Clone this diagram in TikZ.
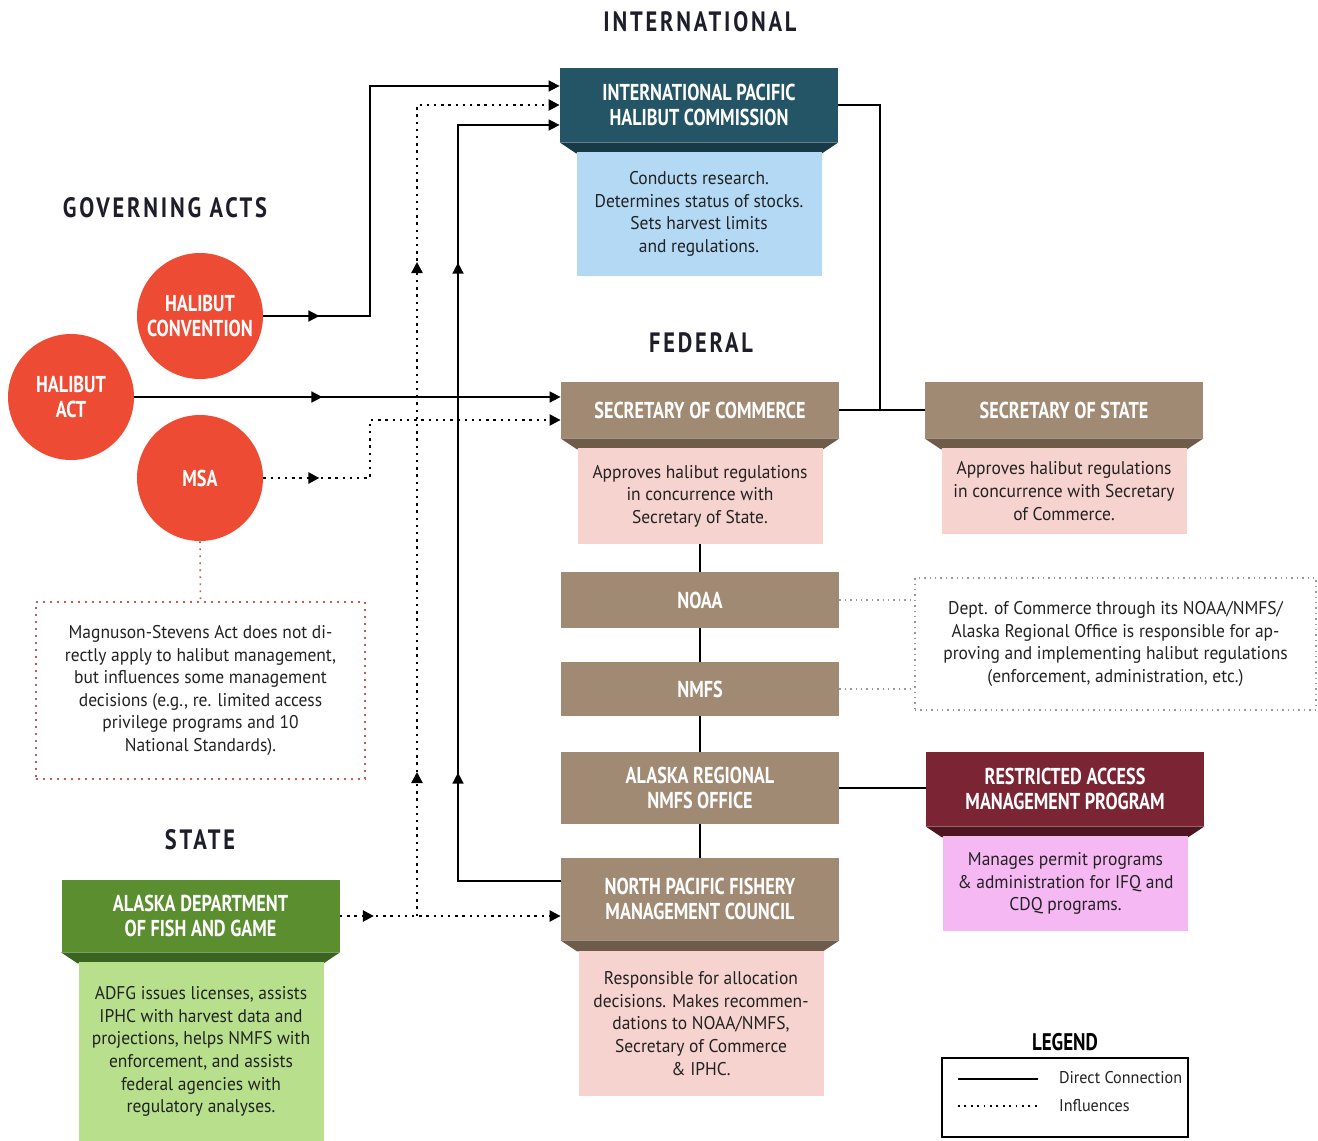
\documentclass[tikz,border=0pt]{standalone}
\usepackage{fontspec}
\setmainfont{PT Sans}
\newfontfamily\hdfont[FakeStretch=0.79]{PT Sans}
\newfontfamily\ttlfont[FakeStretch=0.8,LetterSpace=10]{PT Sans}
\newfontfamily\txtfont[FakeStretch=0.95]{PT Sans}
\usetikzlibrary{arrows.meta,decorations.markings}

\definecolor{actred}{HTML}{EE4B34}
\definecolor{tealtop}{HTML}{245566}
\definecolor{tealdark}{HTML}{173A46}
\definecolor{browntop}{HTML}{A18A73}
\definecolor{browndark}{HTML}{6F5B49}
\definecolor{maroontop}{HTML}{7B2434}
\definecolor{maroondark}{HTML}{4E1520}
\definecolor{greentop}{HTML}{5A8E2F}
\definecolor{greendark}{HTML}{3B6420}
\definecolor{bluedesc}{HTML}{B3D9F5}
\definecolor{pinkdesc}{HTML}{F6D3CE}
\definecolor{magentadesc}{HTML}{F6B8F3}
\definecolor{greendesc}{HTML}{B8E08C}
\definecolor{titleblue}{HTML}{1E1E2A}
\definecolor{txtgray}{HTML}{222222}
\definecolor{notered}{HTML}{C65A55}

\tikzset{tipat/.style={postaction={decorate,decoration={markings,
    mark=at position #1 with {\arrow{Triangle[length=5.5pt,width=5.5pt]}}}}}}
\newcommand{\chamfer}[2]{\fill [#2] (#1.south west) -- (#1.south east)
    -- ([xshift=-8.25pt,yshift=-5.5pt]#1.south east)
    -- ([xshift=8.25pt,yshift=-5.5pt]#1.south west) -- cycle;}

\begin{document}
\begin{tikzpicture}[x=0.5pt,y=-0.5pt]
        \tikzstyle{hdr}=[rectangle,text=white,font=\hdfont\bfseries\fontsize{11.5}{12.2}\selectfont,align=center,inner sep=0pt,minimum width=139pt]
        \tikzstyle{desc}=[rectangle,text=txtgray,font=\txtfont\fontsize{9.2}{11.3}\selectfont,align=center,inner sep=0pt,minimum width=122.5pt]
        \tikzstyle{act}=[circle,fill=actred,text=white,font=\hdfont\bfseries\fontsize{11.5}{12.2}\selectfont,align=center,inner sep=0pt,minimum size=63pt]
        \tikzstyle{sectitle}=[font=\ttlfont\bfseries\fontsize{14}{14}\selectfont,text=titleblue]
        \tikzstyle{direct}=[line width=0.8pt]
        \tikzstyle{influence}=[line width=1.2pt,dash pattern=on 1.2pt off 2.4pt]
        \tikzstyle{faint}=[line width=0.7pt,draw=gray!80,dash pattern=on 0.7pt off 2pt]
        \tikzstyle{notedots}=[line width=0.8pt,draw=notered,dash pattern=on 0.8pt off 2.7pt]
        \tikzstyle{endtip}=[-{Triangle[length=5.5pt,width=5.5pt]}]
        \useasboundingbox (0,0) rectangle (1318,1141);
        \node [sectitle] (intl) at (700,22) {INTERNATIONAL};
        \node [sectitle] (gov) at (165,208) {GOVERNING ACTS};
        \node [sectitle] (fed) at (701,343) {FEDERAL};
        \node [sectitle] (state) at (200,840) {STATE};
        \node [hdr,fill=tealtop,minimum height=37pt] (iphc) at (699,105) {INTERNATIONAL PACIFIC\\HALIBUT COMMISSION};
        \chamfer{iphc}{tealdark}
        \node [desc,fill=bluedesc,minimum height=62pt] (iphcd) at (699,214) {Conducts research.\\Determines status of stocks.\\Sets harvest limits\\and regulations.};
        \node [hdr,fill=browntop,minimum height=28pt] (soc) at (700,410) {SECRETARY OF COMMERCE};
        \chamfer{soc}{browndark}
        \node [desc,fill=pinkdesc,minimum height=48pt] (socd) at (700,496) {Approves halibut regulations\\in concurrence with\\Secretary of State.};
        \node [hdr,fill=browntop,minimum height=28pt] (sos) at (1064,410) {SECRETARY OF STATE};
        \chamfer{sos}{browndark}
        \node [desc,fill=pinkdesc,minimum height=43pt] (sosd) at (1064,491) {Approves halibut regulations\\in concurrence with Secretary\\of Commerce.};
        \node [hdr,fill=browntop,minimum height=28pt] (noaa) at (700,600) {NOAA};
        \node [hdr,fill=browntop,minimum height=27pt] (nmfs) at (700,689) {NMFS};
        \node [hdr,fill=browntop,minimum height=36pt] (arno) at (700,788) {ALASKA REGIONAL\\NMFS OFFICE};
        \node [hdr,fill=browntop,minimum height=41pt] (npfmc) at (700,899) {NORTH PACIFIC FISHERY\\MANAGEMENT COUNCIL};
        \chamfer{npfmc}{browndark}
        \node [desc,fill=pinkdesc,minimum height=72.5pt] (npfmcd) at (701,1023.5) {Responsible for allocation\\decisions. Makes recommen-\\dations to NOAA/NMFS,\\Secretary of Commerce\\\& IPHC.};
        \node [hdr,fill=maroontop,minimum height=37pt] (ramp) at (1065,789) {RESTRICTED ACCESS\\MANAGEMENT PROGRAM};
        \chamfer{ramp}{maroondark}
        \node [desc,fill=magentadesc,minimum height=47.5pt] (rampd) at (1065.5,883.5) {Manages permit programs\\\& administration for IFQ and\\CDQ programs.};
        \node [hdr,fill=greentop,minimum height=36pt] (adfg) at (200.5,916) {ALASKA DEPARTMENT\\OF FISH AND GAME};
        \chamfer{adfg}{greendark}
        \node [desc,fill=greendesc,minimum height=89.5pt] (adfgd) at (201,1051.5) {ADFG issues licenses, assists\\IPHC with harvest data and\\projections, helps NMFS with\\enforcement, and assists\\federal agencies with\\regulatory analyses.};
        \node [act] (conv) at (200,316) {HALIBUT\\CONVENTION};
        \node [act] (hact) at (71,397) {HALIBUT\\ACT};
        \node [act] (msa) at (200,478) {MSA};
        \node [desc,notedots,minimum width=164.5pt,minimum height=88.5pt] (msanote) at (200.5,690.5) {Magnuson-Stevens Act does not di-\\rectly apply to halibut management,\\but influences some management\\decisions (e.g., re. limited access\\privilege programs and 10\\National Standards).};
        \node [desc,faint,minimum width=200.5pt,minimum height=66pt] (docnote) at (1115.5,644) {Dept. of Commerce through its NOAA/NMFS/\\Alaska Regional Office is responsible for ap-\\proving and implementing halibut regulations\\(enforcement, administration, etc.)};
        \coordinate (convup) at (370,86);
        \coordinate (msaup) at (370,420);
        \coordinate (adfgup) at (417,916);
        \coordinate (npup) at (458,125);
        \coordinate (joint) at (880,410);
        \draw [direct,endtip,tipat=28pt] (conv.east) -| (convup) -- ([yshift=9.5pt]iphc.west);
        \draw [direct,endtip,tipat=94pt] (hact.east) -- (hact.east -| soc.west);
        \draw [influence,endtip,tipat=28pt] (msa.east) -| (msaup) -- (msaup -| soc.west);
        \draw [influence,endtip,tipat=17pt] (adfg.east) -- (adfg.east -| npfmc.west);
        \draw [influence,endtip,tipat=72pt,tipat=327pt] (adfgup) |- (iphc.west);
        \draw [direct,endtip,tipat=105.5pt,tipat=360.5pt] ([yshift=9pt]npfmc.west) -| (npup) -- ([yshift=-10pt]iphc.west);
        \draw [direct] (iphc.east) -| (joint);
        \draw [direct] (soc.east) -- (sos.west);
        \draw [direct] (socd.south) -- (noaa.north);
        \draw [direct] (noaa.south) -- (nmfs.north);
        \draw [direct] (nmfs.south) -- (arno.north);
        \draw [direct] (arno.south) -- (npfmc.north);
        \draw [direct] (arno.east) -- (arno.east -| ramp.west);
        \draw [faint] (noaa.east) -- (noaa.east -| docnote.west);
        \draw [faint] (nmfs.east) -- (nmfs.east -| docnote.west);
        \draw [notedots] (msa.south) -- (msanote.north);
        \node [font=\hdfont\bfseries\fontsize{12}{12}\selectfont] (legtitle) at (1065,1042) {LEGEND};
        \node [draw,line width=1pt,minimum width=123pt,minimum height=39.5pt] (legbox) at (1065,1097.5) {};
        \coordinate (ldirA) at (958,1079);
        \coordinate (ldirB) at (1038,1079);
        \coordinate (linfA) at (958,1106);
        \coordinate (linfB) at (1038,1106);
        \draw [direct] (ldirA) -- (ldirB);
        \draw [line width=0.9pt,dash pattern=on 0.9pt off 2.3pt] (linfA) -- (linfB);
        \node [anchor=west,text=txtgray,font=\txtfont\fontsize{8.5}{10}\selectfont] (legdirect) at (1052,1078) {Direct Connection};
        \node [anchor=west,text=txtgray,font=\txtfont\fontsize{8.5}{10}\selectfont] (leginf) at (1052,1106) {Influences};
    \end{tikzpicture}
\end{document}
